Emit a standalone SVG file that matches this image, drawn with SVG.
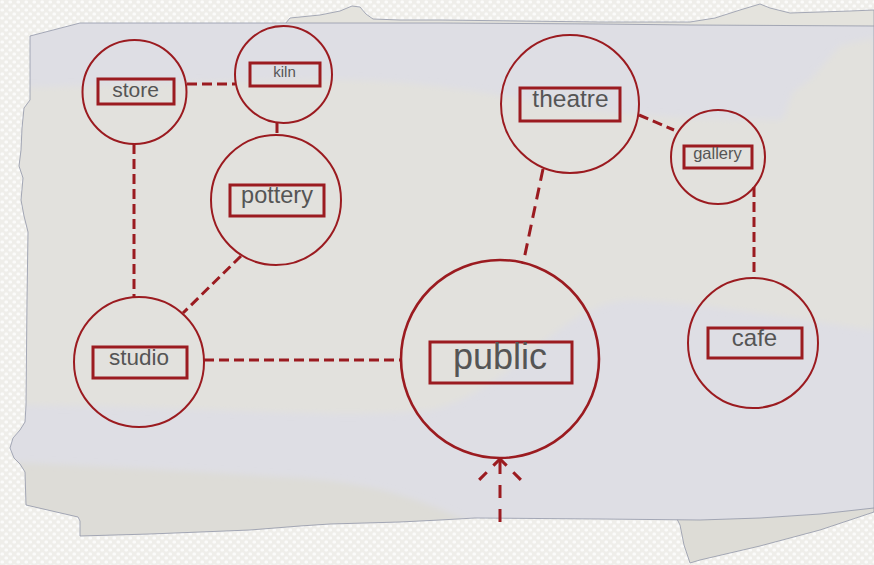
<svg xmlns="http://www.w3.org/2000/svg" width="874" height="565" viewBox="0 0 874 565">
  <defs>
    <!-- woven backdrop texture -->
    <pattern id="weave" width="8" height="8" patternUnits="userSpaceOnUse">
      <rect width="8" height="8" fill="#efeeea"/>
      <rect x="0.5" y="0.5" width="3.5" height="3" rx="1.2" fill="#fbfbfa"/>
      <rect x="4.5" y="4.5" width="3.5" height="3" rx="1.2" fill="#fbfbfa"/>
    </pattern>
    <clipPath id="sheet">
      <path id="sheetOutline" d="M30,36 L80,23 L285,23 L440,23 L600,24 L690,25 L874,26 L874,508 L820,514 L760,518 L700,520 L600,519 L475,518 L440,520 L400,522 L330,524 L300,526 L250,530 L150,534 L80,536 L80,521 L78,517 L26,505 L25,472 L20,464 L14,458 L10,448 L13,438 L20,430 L25,422 L26,405 L27,300 L28,232 L24,216 L21,200 L23,178 L19,166 L21,150 L22,128 L24,108 L30,100 Z"/>
    </clipPath>
    <filter id="soft" x="-5%" y="-5%" width="110%" height="110%">
      <feGaussianBlur stdDeviation="3"/>
    </filter>
    <!-- open chevron arrowhead, dashed like its connector -->
    <marker id="openHead" markerUnits="userSpaceOnUse" markerWidth="30" markerHeight="50" viewBox="-24 -24 28 48" refX="0" refY="0" orient="auto" overflow="visible">
      <path d="M0,0 L-20,-20 M0,0 L-20,20" fill="none" stroke="#9b1b20" stroke-width="3" stroke-dasharray="9 9 12"/>
    </marker>
    <style>
      .node circle { fill: none; stroke: #9b1b20; stroke-width: 2; }
      .node rect { fill: none; stroke: #9b1b20; stroke-width: 3; }
      .node text { font-family: "Liberation Sans", Arial, sans-serif; fill: #555555; text-anchor: middle; }
      .link { fill: none; stroke: #9b1b20; stroke-width: 3; stroke-dasharray: 10 5; }
    </style>
  </defs>

  <!-- backdrop -->
  <rect width="874" height="565" fill="url(#weave)"/>

  <!-- torn scraps peeking out behind the sheet -->
  <path d="M285,24 L290,18 L300,17 L320,15 L340,11 L352,6 L360,7 L366,14 L373,19 L400,20 L440,20 L520,21 L600,22 L690,22 L715,18 L740,10 L760,4 L770,8 L790,13 L820,12 L850,11 L874,10 L874,30 L285,30 Z" fill="#e4e3dd" stroke="#9297a8" stroke-width="0.8"/>
  <path d="M675,515 L874,505 L874,512 L850,520 L820,530 L790,538 L760,546 L730,553 L700,560 L690,563 L684,545 L680,525 Z" fill="#dddcd6" stroke="#9297a8" stroke-width="0.8"/>

  <!-- paper sheet -->
  <g clip-path="url(#sheet)">
    <rect x="0" y="0" width="874" height="565" fill="#dedee4"/>
    <g filter="url(#soft)">
      <path d="M0,88 C120,86 230,80 330,80 C420,80 480,92 560,106 C630,116 700,120 783,120 L793,92 L810,80 L840,46 L874,38 L874,330 C800,320 720,305 640,300 C560,295 520,390 430,410 C330,420 200,405 0,405 Z" fill="#e2e1dd"/>
      <path d="M0,462 C100,466 200,472 300,478 C380,484 420,500 470,522 L0,560 Z" fill="#dddcd7"/>
    </g>
  </g>
  <use href="#sheetOutline" fill="none" stroke="#9297a8" stroke-width="0.8"/>

  <!-- connectors -->
  <g id="connectors">
    <line class="link" x1="187" y1="84" x2="235" y2="84"/>
    <line class="link" x1="277" y1="123" x2="277" y2="135"/>
    <line class="link" x1="134" y1="144" x2="134" y2="297"/>
    <line class="link" x1="241" y1="256" x2="183" y2="313"/>
    <line class="link" x1="204" y1="360" x2="401" y2="360"/>
    <line class="link" x1="543" y1="169" x2="523" y2="264" style="stroke-dasharray: 12 7"/>
    <line class="link" x1="639" y1="115" x2="674" y2="130"/>
    <line class="link" x1="754" y1="187" x2="754" y2="278"/>
    <line class="link" x1="500" y1="522" x2="500" y2="459" style="stroke-dasharray: 13 11" marker-end="url(#openHead)"/>
  </g>

  <!-- nodes -->
  <g id="store" class="node">
    <circle cx="134.5" cy="92" r="52"/>
    <rect x="98" y="79" width="76" height="25"/>
    <text x="135.5" y="97" font-size="21">store</text>
  </g>
  <g id="kiln" class="node">
    <circle cx="283.5" cy="74.5" r="48.5"/>
    <rect x="250" y="63" width="70" height="23"/>
    <text x="284.5" y="77" font-size="15">kiln</text>
  </g>
  <g id="pottery" class="node">
    <circle cx="276" cy="200" r="65"/>
    <rect x="230" y="185" width="94" height="31"/>
    <text x="277" y="203" font-size="23.5">pottery</text>
  </g>
  <g id="studio" class="node">
    <circle cx="139" cy="362" r="65"/>
    <rect x="93" y="347" width="94" height="31"/>
    <text x="139" y="365" font-size="22.5">studio</text>
  </g>
  <g id="public" class="node">
    <circle cx="500" cy="359" r="99" style="stroke-width: 2.6"/>
    <rect x="430" y="342" width="142" height="41"/>
    <text x="500" y="369" font-size="36">public</text>
  </g>
  <g id="theatre" class="node">
    <circle cx="570" cy="104" r="69"/>
    <rect x="520" y="88" width="100" height="33"/>
    <text x="570.5" y="107" font-size="24.5">theatre</text>
  </g>
  <g id="gallery" class="node">
    <circle cx="718" cy="157" r="47"/>
    <rect x="684" y="146" width="68" height="22"/>
    <text x="717.5" y="159" font-size="16.5">gallery</text>
  </g>
  <g id="cafe" class="node">
    <circle cx="753" cy="343" r="65"/>
    <rect x="708" y="328" width="94" height="30"/>
    <text x="754.5" y="346" font-size="24">cafe</text>
  </g>
</svg>
